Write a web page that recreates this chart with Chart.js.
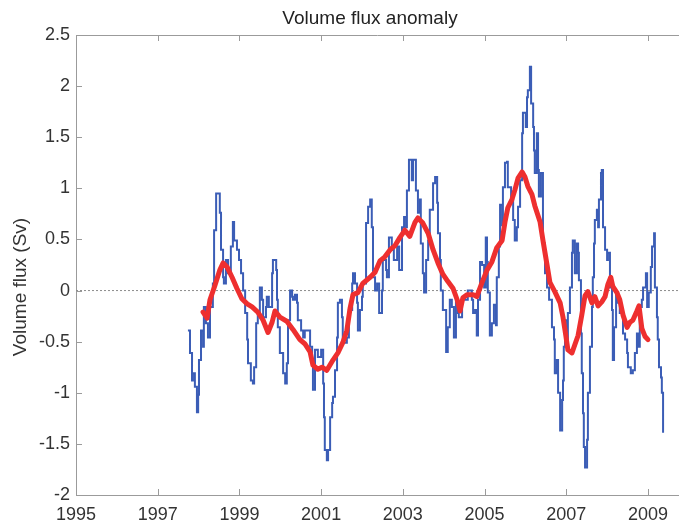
<!DOCTYPE html>
<html>
<head>
<meta charset="utf-8">
<script src="https://cdn.jsdelivr.net/npm/chart.js@4/dist/chart.umd.min.js"></script>
<style>
  html, body { margin: 0; padding: 0; background: #ffffff; }
  canvas { display: block; }
</style>
</head>
<body>
<canvas id="flux" width="679" height="527"></canvas>
<script>
// Volume flux anomaly (Sv): raw series and its running mean, in decimal years.
const rawYears = [
  1997.74, 1997.79, 1997.84, 1997.86, 1997.91, 1997.96, 1997.99, 1998.01, 1998.06, 1998.11,
  1998.13, 1998.18, 1998.23, 1998.28, 1998.35, 1998.38, 1998.43, 1998.50, 1998.52, 1998.55,
  1998.60, 1998.62, 1998.67, 1998.72, 1998.79, 1998.84, 1998.87, 1998.94, 1998.99, 1999.04,
  1999.09, 1999.14, 1999.19, 1999.21, 1999.28, 1999.33, 1999.36, 1999.41, 1999.45, 1999.50,
  1999.55, 1999.58, 1999.65, 1999.67, 1999.72, 1999.80, 1999.82, 1999.90, 1999.92, 1999.94,
  1999.99, 2000.07, 2000.12, 2000.16, 2000.19, 2000.24, 2000.29, 2000.31, 2000.36, 2000.41,
  2000.43, 2000.51, 2000.56, 2000.60, 2000.68, 2000.73, 2000.78, 2000.80, 2000.85, 2000.92,
  2001.00, 2001.05, 2001.07, 2001.09, 2001.14, 2001.17, 2001.22, 2001.27, 2001.29, 2001.34,
  2001.39, 2001.41, 2001.46, 2001.51, 2001.53, 2001.63, 2001.68, 2001.76, 2001.78, 2001.83,
  2001.88, 2001.90, 2001.95, 2002.00, 2002.02, 2002.10, 2002.15, 2002.20, 2002.24, 2002.27,
  2002.32, 2002.37, 2002.42, 2002.49, 2002.51, 2002.59, 2002.61, 2002.66, 2002.73, 2002.78,
  2002.86, 2002.91, 2002.98, 2003.03, 2003.08, 2003.10, 2003.15, 2003.22, 2003.25, 2003.32,
  2003.37, 2003.42, 2003.44, 2003.49, 2003.52, 2003.57, 2003.62, 2003.66, 2003.74, 2003.79,
  2003.84, 2003.86, 2003.91, 2003.93, 2003.98, 2004.06, 2004.10, 2004.15, 2004.20, 2004.25,
  2004.30, 2004.35, 2004.37, 2004.45, 2004.52, 2004.59, 2004.69, 2004.72, 2004.77, 2004.81,
  2004.84, 2004.89, 2004.94, 2004.99, 2005.03, 2005.06, 2005.08, 2005.13, 2005.18, 2005.23,
  2005.28, 2005.30, 2005.35, 2005.38, 2005.43, 2005.45, 2005.50, 2005.55, 2005.57, 2005.65,
  2005.70, 2005.74, 2005.79, 2005.82, 2005.87, 2005.92, 2005.94, 2006.01, 2006.04, 2006.06,
  2006.11, 2006.14, 2006.19, 2006.21, 2006.23, 2006.28, 2006.31, 2006.33, 2006.38, 2006.43,
  2006.48, 2006.53, 2006.58, 2006.65, 2006.70, 2006.72, 2006.77, 2006.80, 2006.85, 2006.90,
  2006.92, 2006.94, 2006.97, 2007.02, 2007.04, 2007.09, 2007.14, 2007.16, 2007.21, 2007.26,
  2007.29, 2007.31, 2007.36, 2007.38, 2007.41, 2007.43, 2007.46, 2007.51, 2007.53, 2007.58,
  2007.63, 2007.65, 2007.68, 2007.70, 2007.75, 2007.78, 2007.80, 2007.85, 2007.87, 2007.90,
  2007.95, 2008.00, 2008.02, 2008.07, 2008.12, 2008.14, 2008.17, 2008.22, 2008.27, 2008.31,
  2008.39, 2008.44, 2008.49, 2008.51, 2008.58, 2008.63, 2008.68, 2008.73, 2008.76, 2008.80,
  2008.85, 2008.88, 2008.95, 2008.98, 2009.02, 2009.07, 2009.10, 2009.15, 2009.17, 2009.22,
  2009.24, 2009.27, 2009.32, 2009.34, 2009.37
];
const rawFlux = [
  -0.39, -0.61, -0.88, -0.81, -0.94, -1.19, -1.02, -0.68, -0.39, -0.55,
  -0.16, -0.32, -0.46, -0.16, 0.07, 0.59, 0.95, 0.95, 0.76, 0.40,
  0.13, 0.07, 0.30, 0.17, 0.43, 0.67, 0.49, 0.40, 0.30, 0.17,
  0.00, -0.22, -0.48, -0.71, -0.88, -0.91, -0.75, -0.32, -0.22, 0.03,
  -0.09, -0.26, -0.16, -0.06, -0.16, 0.17, 0.30, 0.20, -0.09, -0.36,
  -0.61, -0.81, -0.91, -0.71, -0.29, 0.00, -0.06, -0.09, -0.04, -0.12,
  -0.29, -0.39, -0.46, -0.39, -0.39, -0.55, -0.71, -0.97, -0.58, -0.65,
  -0.58, -0.91, -1.24, -1.56, -1.66, -1.56, -1.24, -1.10, -1.04, -0.78,
  -0.46, -0.12, -0.09, -0.26, -0.51, -0.46, -0.19, 0.07, 0.17, 0.07,
  -0.12, -0.39, -0.19, -0.06, 0.07, 0.66, 0.82, 0.89, 0.62, 0.13,
  0.00, 0.07, -0.22, 0.00, 0.30, 0.20, 0.13, 0.52, 0.40, 0.30,
  0.43, 0.20, 0.62, 0.72, 0.62, 0.98, 1.28, 1.08, 1.28, 0.98,
  0.76, 0.89, 0.46, 0.17, -0.02, 0.30, 0.49, 0.79, 1.05, 1.11,
  0.86, 0.56, 0.30, 0.00, -0.19, -0.60, -0.36, -0.09, -0.16, -0.46,
  -0.09, -0.22, -0.26, -0.07, -0.09, 0.00, -0.09, -0.22, -0.19, -0.44,
  -0.09, 0.28, 0.25, 0.03, 0.52, 0.28, -0.02, -0.44, -0.32, -0.14,
  -0.34, 0.13, 0.43, 0.84, 0.64, 1.01, 1.25, 1.26, 1.01, 0.89,
  0.69, 0.49, 0.62, 0.82, 1.08, 1.54, 1.74, 1.60, 1.89, 1.96,
  2.19, 1.83, 1.60, 1.37, 1.15, 1.54, 1.18, 0.92, 1.15, 0.46,
  0.17, 0.03, -0.09, -0.36, -0.48, -0.81, -0.68, -1.00, -1.37, -1.07,
  -0.88, -0.55, -0.29, -0.55, -0.22, 0.03, 0.37, 0.49, 0.17, 0.46,
  0.37, 0.10, -0.42, -0.81, -1.20, -1.53, -1.73, -1.46, -1.00, -0.55,
  -0.16, 0.13, 0.46, 0.69, 0.79, 0.62, 0.89, 1.15, 1.18, 0.62,
  0.40, 0.30, 0.37, 0.03, -0.19, -0.68, -0.36, -0.02, -0.12, -0.22,
  -0.42, -0.48, -0.61, -0.75, -0.81, -0.78, -0.61, -0.42, -0.55, -0.16,
  -0.09, 0.03, 0.17, -0.16, -0.02, 0.23, 0.43, 0.56, 0.03, -0.26,
  -0.48, -0.75, -0.85, -1.00, -1.39
];

const meanYears = [
  1998.11, 1998.21, 1998.28, 1998.40, 1998.52, 1998.60, 1998.70, 1998.82, 1998.94, 1999.06,
  1999.19, 1999.31, 1999.45, 1999.58, 1999.70, 1999.80, 1999.87, 1999.99, 2000.16, 2000.31,
  2000.48, 2000.60, 2000.73, 2000.80, 2000.92, 2001.02, 2001.14, 2001.29, 2001.41, 2001.53,
  2001.63, 2001.71, 2001.78, 2001.90, 2002.02, 2002.20, 2002.32, 2002.44, 2002.56, 2002.69,
  2002.81, 2002.93, 2003.05, 2003.17, 2003.30, 2003.37, 2003.49, 2003.62, 2003.74, 2003.86,
  2003.98, 2004.10, 2004.23, 2004.33, 2004.40, 2004.47, 2004.57, 2004.72, 2004.81, 2004.94,
  2005.06, 2005.18, 2005.30, 2005.43, 2005.50, 2005.57, 2005.67, 2005.74, 2005.82, 2005.92,
  2005.99, 2006.06, 2006.16, 2006.23, 2006.36, 2006.43, 2006.53, 2006.60, 2006.72, 2006.85,
  2006.92, 2006.99, 2007.04, 2007.14, 2007.21, 2007.29, 2007.38, 2007.46, 2007.53, 2007.63,
  2007.70, 2007.78, 2007.87, 2007.95, 2008.02, 2008.09, 2008.14, 2008.24, 2008.31, 2008.39,
  2008.49, 2008.56, 2008.63, 2008.73, 2008.78, 2008.85, 2008.93, 2009.00
];
const meanFlux = [
  -0.21, -0.27, -0.09, 0.05, 0.20, 0.27, 0.23, 0.13, 0.02, -0.08,
  -0.13, -0.16, -0.21, -0.29, -0.41, -0.31, -0.20, -0.26, -0.30, -0.38,
  -0.48, -0.52, -0.60, -0.73, -0.77, -0.75, -0.78, -0.68, -0.61, -0.51,
  -0.39, -0.17, -0.04, -0.02, 0.07, 0.13, 0.18, 0.29, 0.33, 0.40,
  0.44, 0.52, 0.59, 0.53, 0.67, 0.71, 0.66, 0.56, 0.40, 0.27,
  0.16, 0.09, 0.02, -0.09, -0.20, -0.07, -0.04, -0.04, -0.06, 0.08,
  0.20, 0.28, 0.42, 0.49, 0.67, 0.81, 0.89, 0.98, 1.10, 1.16,
  1.11, 1.02, 0.94, 0.83, 0.67, 0.49, 0.25, 0.08, -0.01, -0.12,
  -0.26, -0.44, -0.58, -0.61, -0.53, -0.44, -0.24, -0.05, -0.01, -0.12,
  -0.06, -0.15, -0.11, -0.06, 0.06, 0.13, 0.04, -0.02, -0.09, -0.24,
  -0.36, -0.31, -0.29, -0.20, -0.15, -0.37, -0.45, -0.48
];

// Axis ranges and tick labels
const xRange = [1995, 2009.76];
const yRange = [-2, 2.5];
const xTickValues = [1995, 1997, 1999, 2001, 2003, 2005, 2007, 2009];
const xTickLabels = ['1995', '1997', '1999', '2001', '2003', '2005', '2007', '2009'];
const yTickValues = [-2, -1.5, -1, -0.5, 0, 0.5, 1, 1.5, 2, 2.5];
const yTickLabels = ['-2', '-1.5', '-1', '-0.5', '0', '0.5', '1', '1.5', '2', '2.5'];

const titleText = 'Volume flux anomaly';
const yAxisTitle = 'Volume flux (Sv)';

const FONT = '"Liberation Sans", Arial, Helvetica, sans-serif';
const TEXT = '#333333';
const AXIS = '#9b9b9b';

// Box frame, inward tick marks, title and y-axis title
const framePlugin = {
  id: 'frame',
  afterDraw(chart) {
    const { ctx, chartArea: a, scales } = chart;
    const xs = scales.x, ys = scales.y;
    ctx.save();
    ctx.strokeStyle = AXIS;
    ctx.lineWidth = 1;
    ctx.beginPath();
    ctx.moveTo(a.left, a.top + 0.5);
    ctx.lineTo(a.right, a.top + 0.5);
    xTickValues.forEach(v => {
      const px = Math.round(xs.getPixelForValue(v)) + 0.5;
      ctx.moveTo(px, a.bottom); ctx.lineTo(px, a.bottom - 6);
      ctx.moveTo(px, a.top); ctx.lineTo(px, a.top + 6);
    });
    yTickValues.forEach(v => {
      const py = Math.round(ys.getPixelForValue(v)) + 0.5;
      ctx.moveTo(a.left, py); ctx.lineTo(a.left + 6, py);
    });
    ctx.stroke();

    ctx.fillStyle = '#222222';
    ctx.font = '19px ' + FONT;
    ctx.textAlign = 'center';
    ctx.textBaseline = 'alphabetic';
    ctx.fillText(titleText, a.left + 294, 24);

    ctx.fillStyle = TEXT;
    ctx.translate(21, 287);
    ctx.rotate(-Math.PI / 2);
    ctx.textBaseline = 'middle';
    ctx.fillText(yAxisTitle, 0, 0);
    ctx.restore();
  }
};

const toPoints = (xs, ys) => xs.map((x, i) => ({ x, y: ys[i] }));

new Chart(document.getElementById('flux'), {
  type: 'line',
  data: {
    datasets: [
      {
        label: 'Running mean',
        data: toPoints(meanYears, meanFlux),
        borderColor: '#ee2f2f',
        borderWidth: 5,
        pointRadius: 0,
        borderJoinStyle: 'round',
        borderCapStyle: 'round',
        order: 1
      },
      {
        label: 'Volume flux',
        data: toPoints(rawYears, rawFlux),
        borderColor: '#3b5db6',
        borderWidth: 2,
        pointRadius: 0,
        stepped: true,
        order: 2
      },
      {
        label: 'Zero',
        data: toPoints(xRange, [0, 0]),
        borderColor: '#8c8c8c',
        borderWidth: 1,
        borderDash: [2, 2],
        pointRadius: 0,
        order: 3
      }
    ]
  },
  options: {
    responsive: false,
    animation: false,
    devicePixelRatio: 1,
    layout: { padding: { top: 35, left: 0, right: 0, bottom: 0 } },
    plugins: {
      legend: { display: false },
      title: { display: false },
      tooltip: { enabled: false }
    },
    scales: {
      x: {
        type: 'linear',
        min: xRange[0],
        max: xRange[1],
        grid: { display: false, drawTicks: false },
        border: { display: true, color: AXIS, width: 1 },
        ticks: {
          padding: 9,
          color: TEXT,
          font: { family: FONT, size: 18 },
          autoSkip: false,
          maxRotation: 0,
          callback: (v, i) => xTickLabels[i]
        },
        afterBuildTicks: s => { s.ticks = xTickValues.map(v => ({ value: v })); },
        afterFit: s => { s.height = 32; s.paddingLeft = 0; s.paddingRight = 0; }
      },
      y: {
        type: 'linear',
        min: yRange[0],
        max: yRange[1],
        grid: { display: false, drawTicks: false },
        border: { display: true, color: AXIS, width: 1 },
        ticks: {
          padding: 6,
          color: TEXT,
          font: { family: FONT, size: 18 },
          callback: (v, i) => yTickLabels[i]
        },
        afterBuildTicks: s => { s.ticks = yTickValues.map(v => ({ value: v })); },
        afterFit: s => { s.width = 76; s.paddingTop = 0; s.paddingBottom = 0; }
      }
    }
  },
  plugins: [framePlugin]
});
</script>
</body>
</html>
